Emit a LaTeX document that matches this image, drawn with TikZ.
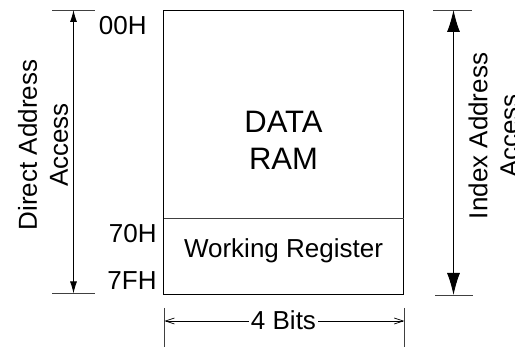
\documentclass[tikz,border=0pt]{standalone}
\usepackage{fontspec}
\setmainfont{Liberation Sans}
\usetikzlibrary{arrows.meta,positioning}
\tikzset{
  lbl/.style={inner sep=0pt,font=\fontsize{26}{31}\selectfont},
  big/.style={inner sep=0pt,font=\fontsize{31}{37}\selectfont},
  tick/.style={draw=black!75,line width=0.9pt},
}
\begin{document}
\begin{tikzpicture}[x=1pt,y=-1pt,line width=0.9pt]
    \useasboundingbox(0,0)rectangle(515,347);
    % memory block
    \coordinate(nw)at(163.5,10.5);\coordinate(se)at(403.5,294.5);
    \coordinate(dl)at(163.5,218);\coordinate(dr)at(403.5,218);
    \draw[line width=1.4pt](nw)rectangle(se);
    \draw[black!75](dl)--(dr);
    \node[big,anchor=base](data)at(283.5,133){DATA};
    \node[big,anchor=base](ram)at(283.5,170){RAM};
    \node[lbl,anchor=base](wreg)at(283.5,258){Working Register};
    % addresses
    \node[lbl,anchor=base east](a00)at(147,35){00H};
    \node[lbl,anchor=base east](a70)at(157,243){70H};
    \node[lbl,anchor=base east](a7f)at(157,290){7FH};
    % direct access
    \coordinate(dt1)at(52,10);\coordinate(dt2)at(95,10);
    \coordinate(db1)at(52,293.5);\coordinate(db2)at(95,293.5);
    \draw[tick](dt1)--(dt2);\draw[tick](db1)--(db2);
    \coordinate(da)at(73.5,10);\coordinate(db)at(73.5,293.5);
    \draw[{Latex[length=12pt,width=7pt]}-{Latex[length=12pt,width=7pt]}](da)--(db);
    \node[lbl,align=center,rotate=90](direct)at(43,145){Direct Address\\Access};
    % index access
    \coordinate(it1)at(433,10);\coordinate(it2)at(472,10);
    \coordinate(ib1)at(435,295);\coordinate(ib2)at(473,295);
    \draw[tick](it1)--(it2);\draw[tick](ib1)--(ib2);
    \coordinate(ia)at(453.5,10);\coordinate(ib)at(453.5,295);
    \draw[{Latex[length=22pt,width=13pt]}-{Latex[length=22pt,width=13pt]}](ia)--(ib);
    \node[lbl,align=center,rotate=90](index)at(493.5,136){Index Address\\Access};
    % width
    \coordinate(wl1)at(164.3,308);\coordinate(wl2)at(164.3,347);
    \coordinate(wr1)at(404.3,308);\coordinate(wr2)at(404.3,347);
    \draw[tick](wl1)--(wl2);\draw[tick](wr1)--(wr2);
    \node[lbl,anchor=base](bits)at(283.5,330){4 Bits};
    \coordinate(wa)at(164.3,321);\coordinate(wb)at(404.3,321);
    \draw[-{Straight Barb[length=9pt,width=6pt,line width=0.7pt]}]([xshift=-2pt]bits.west|-wa)--(wa);
    \draw[-{Straight Barb[length=9pt,width=6pt,line width=0.7pt]}]([xshift=2pt]bits.east|-wb)--(wb);
\end{tikzpicture}
\end{document}
